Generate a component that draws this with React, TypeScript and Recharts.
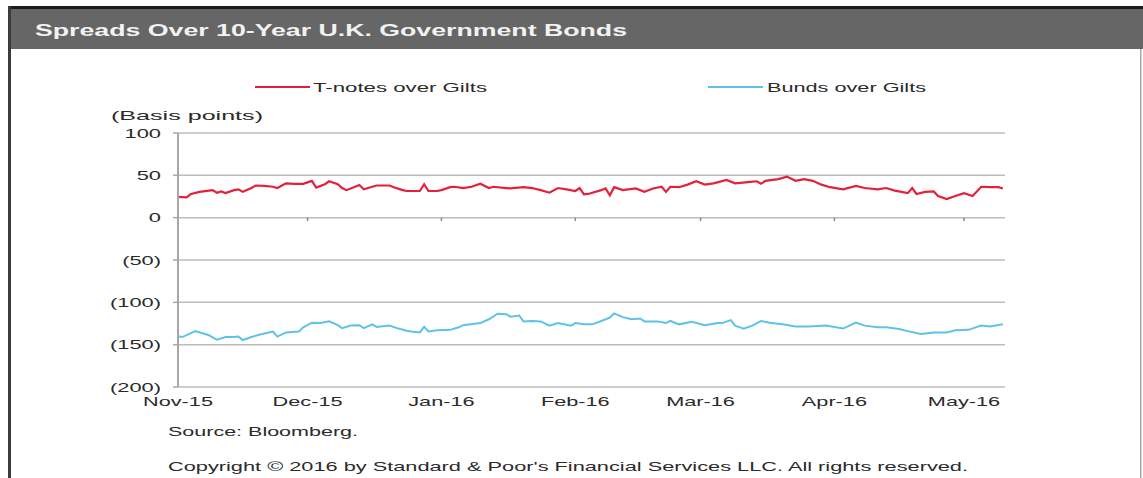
import { LineChart, Line, XAxis, YAxis, CartesianGrid, Legend, ReferenceLine } from 'recharts';

const FONT = '"Liberation Sans", Arial, Helvetica, sans-serif';
const RED = '#e4203c';
const BLUE = '#5ec2ea';
const TEXT = '#2a2a2a';

const monthTicks = ['2015-11-01', '2015-12-01', '2016-01-01', '2016-02-01', '2016-03-01', '2016-04-01', '2016-05-01'];
const monthLabels = ['Nov-15', 'Dec-15', 'Jan-16', 'Feb-16', 'Mar-16', 'Apr-16', 'May-16'];
const yTicks = [-200, -150, -100, -50, 0, 50, 100];
const axisStart = '2015-11-01';
const axisEnd = '2016-05-10';

// T-notes over Gilts, bp
const tnoteDates = [
  '2015-11-01', '2015-11-03', '2015-11-04', '2015-11-06', '2015-11-09', '2015-11-10', '2015-11-11', '2015-11-12',
  '2015-11-14', '2015-11-15', '2015-11-16', '2015-11-18', '2015-11-19', '2015-11-21', '2015-11-23', '2015-11-24',
  '2015-11-26', '2015-11-28', '2015-11-30', '2015-12-02', '2015-12-03', '2015-12-05', '2015-12-06', '2015-12-08',
  '2015-12-09', '2015-12-10', '2015-12-12', '2015-12-13', '2015-12-14', '2015-12-16', '2015-12-17', '2015-12-20',
  '2015-12-21', '2015-12-23', '2015-12-24', '2015-12-27', '2015-12-28', '2015-12-29', '2015-12-31', '2016-01-01',
  '2016-01-03', '2016-01-04', '2016-01-06', '2016-01-08', '2016-01-10', '2016-01-12', '2016-01-13', '2016-01-16',
  '2016-01-17', '2016-01-20', '2016-01-22', '2016-01-24', '2016-01-26', '2016-01-28', '2016-01-30', '2016-02-01',
  '2016-02-02', '2016-02-03', '2016-02-04', '2016-02-07', '2016-02-08', '2016-02-09', '2016-02-10', '2016-02-12',
  '2016-02-15', '2016-02-17', '2016-02-19', '2016-02-21', '2016-02-22', '2016-02-23', '2016-02-25', '2016-02-27',
  '2016-02-29', '2016-03-02', '2016-03-04', '2016-03-07', '2016-03-09', '2016-03-12', '2016-03-14', '2016-03-15',
  '2016-03-16', '2016-03-19', '2016-03-21', '2016-03-23', '2016-03-25', '2016-03-27', '2016-03-29', '2016-03-31',
  '2016-04-03', '2016-04-06', '2016-04-08', '2016-04-11', '2016-04-13', '2016-04-15', '2016-04-18', '2016-04-19',
  '2016-04-20', '2016-04-22', '2016-04-24', '2016-04-25', '2016-04-27', '2016-04-29', '2016-05-01', '2016-05-03',
  '2016-05-05', '2016-05-07', '2016-05-09', '2016-05-10',
];
const tnoteValues = [
  24.5, 24, 28, 30.5, 32.5, 29.5, 31, 29,
  32.5, 33.5, 30.5, 35, 38, 37.5, 36.5, 35,
  40.5, 40, 40, 43.5, 35.5, 39.5, 43, 39.5,
  35, 32.5, 36.5, 38.5, 33.5, 36.5, 38, 38,
  36, 32.5, 31.5, 31.5, 39.5, 31.5, 31.5, 32.5,
  36, 36.5, 35, 36.5, 40, 35, 36.5, 35,
  34.5, 36, 35, 32.5, 29.5, 35, 33.5, 31.5,
  35, 27.5, 28, 32.5, 34.5, 26.5, 36, 32.5,
  34.5, 30.5, 34.5, 36.5, 30.5, 36.5, 36, 39,
  43, 39, 40.5, 44.5, 40.5, 42, 43, 40,
  43.5, 45.5, 48.5, 43.5, 45.5, 43.5, 39, 36,
  33.5, 37.5, 35, 33.5, 35, 32, 29, 35,
  28, 30.5, 31, 25.5, 22, 25.5, 29, 25.5,
  36.5, 36, 36, 34.5,
];

// Bunds over Gilts, bp
const bundDates = [
  '2015-11-01', '2015-11-02', '2015-11-05', '2015-11-08', '2015-11-10', '2015-11-12', '2015-11-14', '2015-11-15',
  '2015-11-16', '2015-11-18', '2015-11-20', '2015-11-23', '2015-11-24', '2015-11-26', '2015-11-29', '2015-11-30',
  '2015-12-02', '2015-12-04', '2015-12-06', '2015-12-08', '2015-12-09', '2015-12-11', '2015-12-13', '2015-12-14',
  '2015-12-16', '2015-12-17', '2015-12-20', '2015-12-22', '2015-12-24', '2015-12-25', '2015-12-27', '2015-12-28',
  '2015-12-29', '2015-12-31', '2016-01-03', '2016-01-05', '2016-01-06', '2016-01-10', '2016-01-12', '2016-01-14',
  '2016-01-16', '2016-01-17', '2016-01-19', '2016-01-20', '2016-01-22', '2016-01-24', '2016-01-26', '2016-01-28',
  '2016-01-31', '2016-02-01', '2016-02-03', '2016-02-05', '2016-02-07', '2016-02-09', '2016-02-10', '2016-02-12',
  '2016-02-14', '2016-02-16', '2016-02-17', '2016-02-20', '2016-02-22', '2016-02-23', '2016-02-25', '2016-02-28',
  '2016-03-02', '2016-03-05', '2016-03-06', '2016-03-08', '2016-03-09', '2016-03-11', '2016-03-13', '2016-03-15',
  '2016-03-17', '2016-03-20', '2016-03-23', '2016-03-26', '2016-03-30', '2016-04-03', '2016-04-06', '2016-04-08',
  '2016-04-11', '2016-04-13', '2016-04-16', '2016-04-18', '2016-04-21', '2016-04-24', '2016-04-27', '2016-04-29',
  '2016-05-02', '2016-05-05', '2016-05-07', '2016-05-10',
];
const bundValues = [
  -140, -141, -134, -138.5, -144, -141, -141, -140.5,
  -144.5, -141, -138, -134.5, -140.5, -135.5, -134.5, -129.5,
  -124, -124.5, -122.5, -127, -130.5, -127.5, -127, -130.5,
  -126, -129, -127.5, -131, -133.5, -134.5, -135.5, -129,
  -134.5, -133, -132.5, -129.5, -127, -124.5, -120, -113.5,
  -114, -117, -115.5, -122.5, -122, -122.5, -127.5, -124.5,
  -127.5, -124.5, -126, -126, -122, -118, -113, -117.5,
  -120, -119, -122.5, -122.5, -124.5, -122, -126, -123,
  -127, -124.5, -124.5, -121, -127.5, -131, -127.5, -122,
  -124, -126, -128.5, -128.5, -127.5, -131, -124, -127.5,
  -129.5, -129.5, -131.5, -134, -137.5, -135.5, -135.5, -133,
  -132.5, -127.5, -128.5, -126,
];

const dayOf = (iso: string) => {
  const [y, m, d] = iso.split('-').map(Number);
  const [y0, m0, d0] = axisStart.split('-').map(Number);
  return (Date.UTC(y, m - 1, d) - Date.UTC(y0, m0 - 1, d0)) / 86400000;
};

const tnoteData = tnoteDates.map((d, i) => ({ day: dayOf(d), value: tnoteValues[i] }));
const bundData = bundDates.map((d, i) => ({ day: dayOf(d), value: bundValues[i] }));
const tickDays = monthTicks.map(dayOf);

const fmtBp = (v: number) => (v < 0 ? `(${Math.abs(v)})` : `${v}`);

function XTick(props: any) {
  const { x, y, payload } = props;
  const i = tickDays.indexOf(payload.value);
  return (
    <text transform={`translate(${x},${y + 19}) scale(1.67,1)`} textAnchor="middle" fontSize={13} fontFamily={FONT} fill={TEXT}>
      {monthLabels[i]}
    </text>
  );
}

function YTick(props: any) {
  const { x, y, payload } = props;
  return (
    <text transform={`translate(${x},${y + 4.5}) scale(1.75,1)`} textAnchor="end" fontSize={12.5} fontFamily={FONT} fill={TEXT}>
      {fmtBp(payload.value)}
    </text>
  );
}

// legend slot per series name
const legendSlots: Record<string, { lineX: number; textX: number; textW: number }> = {
  'T-notes over Gilts': { lineX: 255, textX: 313, textW: 174 },
  'Bunds over Gilts': { lineX: 708, textX: 767, textW: 159 },
};

function renderLegend(props: any) {
  const items = props.payload || [];
  return (
    <svg width={1143} height={22} style={{ display: 'block' }}>
      {items.map((p: any) => {
        const s = legendSlots[p.value];
        if (!s) return null;
        return (
          <g key={p.value}>
            <line x1={s.lineX} x2={s.lineX + 55} y1={10} y2={10} stroke={p.color} strokeWidth={2} />
            <text x={s.textX} y={15} fontSize={13} fontFamily={FONT} fill={TEXT} textLength={s.textW} lengthAdjust="spacingAndGlyphs">
              {p.value}
            </text>
          </g>
        );
      })}
    </svg>
  );
}

export default function App() {
  return (
    <div style={{ position: 'absolute', left: 0, top: 0, width: 1143, height: 478, background: '#fff', overflow: 'hidden' }}>
      <svg width={1143} height={478} style={{ position: 'absolute', left: 0, top: 0 }}>
        <rect x={8} y={6} width={1135} height={3} fill="#1c1c1c" />
        <rect x={10} y={9} width={1133} height={40} fill="#666666" />
        <rect x={8} y={6} width={3} height={472} fill="#3c3c3c" />
        <rect x={1140} y={49} width={1.5} height={429} fill="#a8a8a8" />
        <text x={35} y={36} fontSize={17} fontWeight="bold" fontFamily={FONT} fill="#f2f2f2" textLength={592} lengthAdjust="spacingAndGlyphs">
          Spreads Over 10-Year U.K. Government Bonds
        </text>
        <text x={111} y={120} fontSize={13} fontFamily={FONT} fill={TEXT} textLength={152} lengthAdjust="spacingAndGlyphs">
          (Basis points)
        </text>
        <text x={168} y={436} fontSize={13} fontFamily={FONT} fill={TEXT} textLength={190} lengthAdjust="spacingAndGlyphs">
          Source: Bloomberg.
        </text>
        <text x={168} y={471} fontSize={13} fontFamily={FONT} fill={TEXT} textLength={800} lengthAdjust="spacingAndGlyphs">
          Copyright © 2016 by Standard &amp; Poor's Financial Services LLC. All rights reserved.
        </text>
      </svg>
      <div style={{ position: 'absolute', left: 0, top: 0 }}>
        <LineChart width={1143} height={478} margin={{ top: 133, right: 138, bottom: 71, left: 0 }}>
          <CartesianGrid horizontal vertical={false} stroke="#bcbcbc" strokeWidth={1.5} />
          <XAxis
            type="number"
            dataKey="day"
            domain={[0, dayOf(axisEnd) + 0.5]}
            ticks={tickDays}
            interval={0}
            allowDataOverflow
            height={20}
            axisLine={false}
            tickLine={false}
            tickSize={0}
            tickMargin={0}
            tick={<XTick />}
          />
          <YAxis
            type="number"
            domain={[-200, 100]}
            ticks={yTicks}
            interval={0}
            width={178}
            axisLine={{ stroke: '#a8a8a8', strokeWidth: 2 }}
            tickLine={{ stroke: '#a8a8a8', strokeWidth: 1.5 }}
            tickSize={5}
            tickMargin={12}
            tick={<YTick />}
          />
          {tickDays.map((d) => (
            <ReferenceLine
              key={d}
              segment={[{ x: d, y: 0 }, { x: d, y: -4 }]}
              stroke="#8a8a8a"
              strokeWidth={1.5}
            />
          ))}
          <Legend
            layout="horizontal"
            verticalAlign="middle"
            align="center"
            wrapperStyle={{ top: 77, left: 0, width: 1143, height: 22 }}
            content={renderLegend}
          />
          <Line
            data={tnoteData}
            dataKey="value"
            name="T-notes over Gilts"
            stroke={RED}
            strokeWidth={2.2}
            dot={false}
            type="linear"
            isAnimationActive={false}
          />
          <Line
            data={bundData}
            dataKey="value"
            name="Bunds over Gilts"
            stroke={BLUE}
            strokeWidth={2}
            dot={false}
            type="linear"
            isAnimationActive={false}
          />
        </LineChart>
      </div>
    </div>
  );
}
